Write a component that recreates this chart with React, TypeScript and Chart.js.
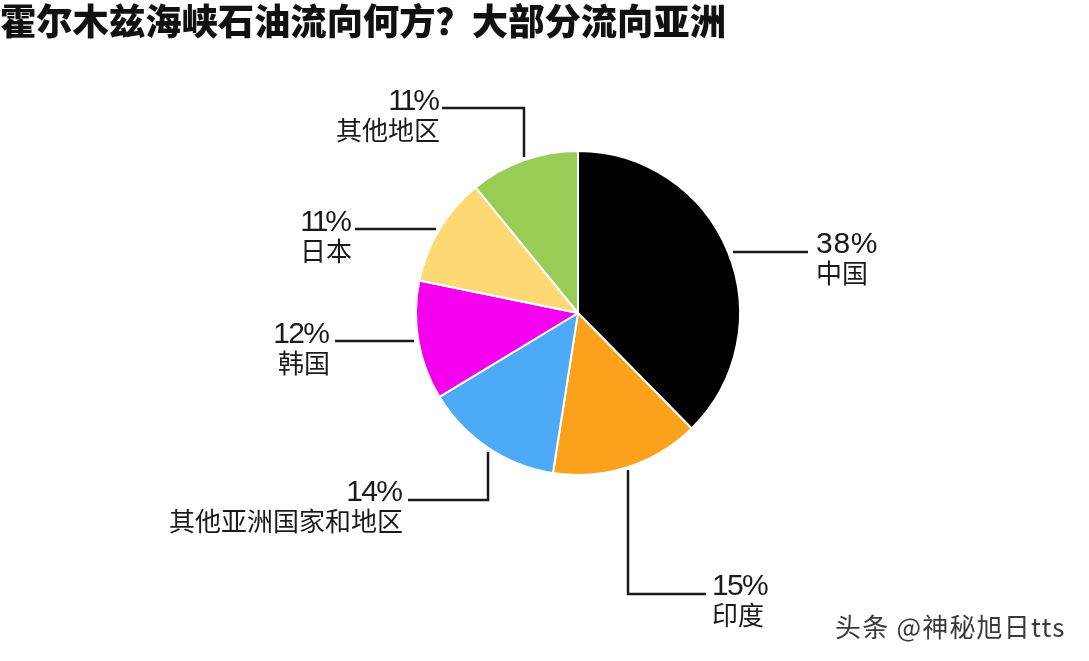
import { useEffect, useRef } from "react"
import Chart from "chart.js/auto"

const TITLE = "霍尔木兹海峡石油流向何方？大部分流向亚洲"
const WATERMARK = "头条 @神秘旭日tts"

const regions = ["中国", "印度", "其他亚洲国家和地区", "韩国", "日本", "其他地区"]
const shares = [38, 15, 14, 12, 11, 11]
const colors = ["#000000", "#fba11b", "#4daaf7", "#f500ee", "#fdd873", "#97cc55"]

// where each callout's text sits, and the bent line leading to the pie
const textAlign: CanvasTextAlign[] = ["left", "left", "right", "right", "right", "right"]
const textX = [816, 712, 403, 330, 352, 440]
const textBaseline = [253, 595, 501, 343, 231, 110]
// the original's digits are set tighter than Liberation Sans, above all the 1s
const percentSpacing = [0.7, -1.7, -1.7, -1.7, -3, -3]
const leaders = [
  [[733, 252], [808, 252]],
  [[628, 470], [628, 594], [706, 594]],
  [[488, 452], [488, 500], [408, 500]],
  [[414, 341], [335, 341]],
  [[436, 229], [355, 229]],
  [[524, 157], [524, 108], [442, 108]],
]

const calloutPlugin = {
  id: "callouts",
  afterDraw(chart: Chart) {
    const ctx = chart.ctx
    ctx.save()

    ctx.fillStyle = "#111111"
    ctx.textBaseline = "alphabetic"
    ctx.textAlign = "left"
    ctx.font = '900 36.3px "Noto Sans CJK SC"'
    ctx.fillText(TITLE, 0, 35)

    ctx.strokeStyle = "#1a1a1a"
    ctx.lineWidth = 2.5
    leaders.forEach((points) => {
      ctx.beginPath()
      points.forEach(([x, y], i) => (i === 0 ? ctx.moveTo(x, y) : ctx.lineTo(x, y)))
      ctx.stroke()
    })

    regions.forEach((region, i) => {
      ctx.textAlign = textAlign[i]
      ctx.fillStyle = "#1a1a1a"
      ctx.font = '30px "Liberation Sans"'
      ctx.letterSpacing = `${percentSpacing[i]}px`
      // letter spacing also trails the last glyph, which shifts right-aligned text
      const percentX = textAlign[i] === "right" ? textX[i] + percentSpacing[i] : textX[i]
      ctx.fillText(`${shares[i]}%`, percentX, textBaseline[i])
      ctx.letterSpacing = "0px"
      ctx.font = '26px "Noto Sans CJK SC"'
      ctx.fillText(region, textX[i], textBaseline[i] + 30)
    })

    // the site's stamp in the corner
    ctx.textAlign = "left"
    ctx.font = '26px "Noto Sans CJK SC"'
    ctx.letterSpacing = "1.2px"
    ctx.fillStyle = "#3a3a3a"
    ctx.fillText(WATERMARK, 835, 637)

    ctx.restore()
  },
}

export default function App() {
  const canvasRef = useRef<HTMLCanvasElement>(null)

  useEffect(() => {
    document.body.style.margin = "0"
    if (!canvasRef.current) return

    const chart = new Chart(canvasRef.current, {
      type: "pie",
      data: {
        labels: regions,
        datasets: [
          {
            data: shares,
            backgroundColor: colors,
            borderColor: "#ffffff",
            borderWidth: 2,
          },
        ],
      },
      options: {
        responsive: false,
        animation: false,
        radius: 162,
        layout: { padding: { left: 67, bottom: 35 } },
        plugins: {
          legend: { display: false },
          tooltip: { enabled: false },
        },
      },
      plugins: [calloutPlugin],
    })

    return () => chart.destroy()
  }, [])

  return <canvas ref={canvasRef} width={1089} height={661} style={{ display: "block" }} />
}
